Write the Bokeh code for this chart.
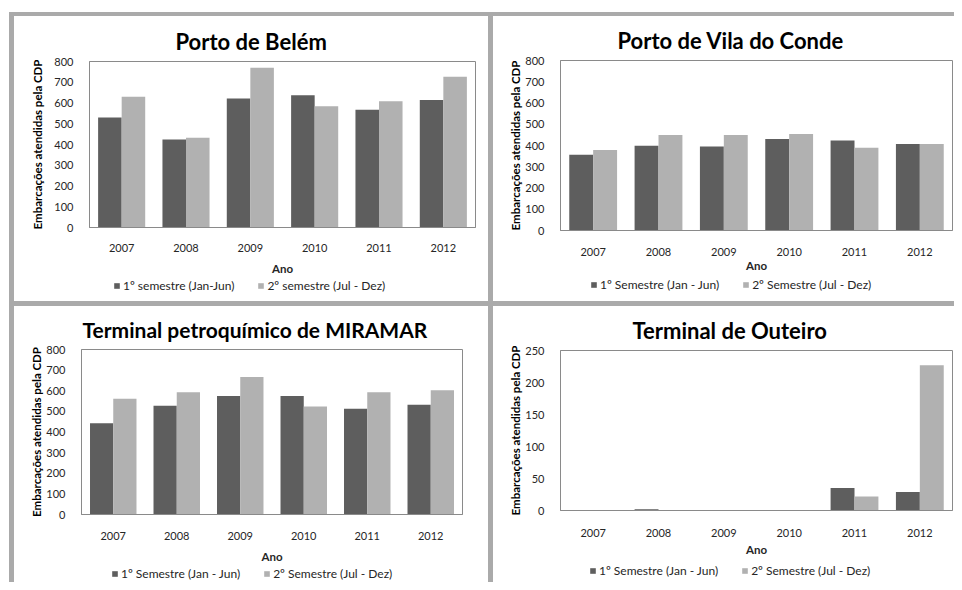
from bokeh.plotting import figure
from bokeh.models import (FactorRange, Range1d, FixedTicker, Legend, LegendItem,
                          Label, ColumnDataSource, Spacer)
from bokeh.transform import dodge
from bokeh.layouts import row, column
from bokeh.embed import file_html
from bokeh.resources import INLINE

# ---------------- data ----------------
years = ["2007", "2008", "2009", "2010", "2011", "2012"]

belem_s1 = [530, 424, 622, 637, 567, 614]
belem_s2 = [630, 433, 770, 584, 608, 727]

vila_s1 = [357, 399, 395, 431, 423, 407]
vila_s2 = [379, 449, 449, 454, 390, 407]

miramar_s1 = [443, 527, 574, 574, 513, 532]
miramar_s2 = [561, 593, 667, 524, 593, 602]

outeiro_s1 = [0, 2, 0, 0, 35, 29]
outeiro_s2 = [0, 0, 0, 0, 22, 227]

ticks_800 = [0, 100, 200, 300, 400, 500, 600, 700, 800]
ticks_250 = [0, 50, 100, 150, 200, 250]

title_belem = "Porto de Belém"
title_vila = "Porto de Vila do Conde"
title_miramar = "Terminal petroquímico de MIRAMAR"
title_outeiro = "Terminal de Outeiro"

legend_a = ["1º semestre (Jan-Jun)", "2º semestre (Jul - Dez)"]
legend_b = ["1º Semestre (Jan - Jun)", "2º Semestre (Jul - Dez)"]

y_label = "Embarcações atendidas pela CDP"
x_label = "Ano"

# ---------------- styling ----------------
FONT = "Lato"
DARK = "#5e5e5e"
LIGHT = "#b1b1b1"
TEXT = "#262626"
AXIS = "#8a8a8a"
BORDER = "#aaaaaa"


def bare(w, h, xr=None, yr=None):
    f = figure(width=w, height=h, x_range=xr if xr is not None else Range1d(0, 1),
               y_range=yr if yr is not None else Range1d(0, 1),
               x_axis_location=None, y_axis_location=None, min_border=0,
               output_backend="svg", toolbar_location=None)
    f.outline_line_color = None
    f.grid.visible = False
    return f


def panel(title, s1, s2, ymax, ticks, labels, w, th, ch, lh, mb, title_xy,
          title_size, ystd, xtick_std, xstd, leg_loc):
    l, r, t, b = mb
    src = ColumnDataSource(dict(year=years, s1=s1, s2=s2))

    # ---- title strip (its frame is aligned with the chart frame below) ----
    tf = bare(w, th)
    tf.add_layout(Label(x=title_xy[0], y=title_xy[1], x_units="screen",
                        y_units="screen", text=title, text_align="left",
                        text_baseline="middle", text_font=FONT,
                        text_font_style="bold", text_font_size=title_size,
                        text_color="black"))

    # ---- chart ----
    p = figure(x_range=FactorRange(*years), y_range=Range1d(0, ymax),
               width=w, height=ch, min_border_left=l, min_border_right=r,
               min_border_top=t, min_border_bottom=b,
               output_backend="svg", toolbar_location=None)
    p.vbar(x=dodge("year", -0.183, range=p.x_range), top="s1", width=0.366,
           source=src, fill_color=DARK, line_color=None)
    p.vbar(x=dodge("year", 0.183, range=p.x_range), top="s2", width=0.366,
           source=src, fill_color=LIGHT, line_color=None)

    p.xgrid.visible = False
    p.ygrid.visible = False
    p.outline_line_color = AXIS
    p.outline_line_width = 1

    ya = p.yaxis[0]
    ya.ticker = FixedTicker(ticks=ticks)
    ya.axis_label = y_label
    ya.axis_label_text_font = FONT
    ya.axis_label_text_font_style = "bold"
    ya.axis_label_text_font_size = "11.5px"
    ya.axis_label_text_color = "black"
    ya.axis_label_standoff = ystd
    ya.major_label_standoff = 10

    xa = p.xaxis[0]
    xa.axis_label = x_label
    xa.axis_label_text_font = FONT
    xa.axis_label_text_font_style = "bold"
    xa.axis_label_text_font_size = "11.5px"
    xa.axis_label_text_color = TEXT
    xa.axis_label_standoff = xstd
    xa.major_label_standoff = xtick_std

    for ax in (xa, ya):
        ax.major_tick_line_color = None
        ax.minor_tick_line_color = None
        ax.axis_line_color = AXIS
        ax.major_label_text_font = FONT
        ax.major_label_text_font_size = "11px"
        ax.major_label_text_color = TEXT

    # ---- legend strip: key renderers are hidden, only the legend key shows ----
    lf = bare(w, lh, xr=FactorRange(*years), yr=Range1d(-2, -1))
    k1 = lf.vbar(x=dodge("year", -0.183, range=lf.x_range), top="s1", width=0.366,
                 source=src, fill_color=DARK, line_color=None)
    k2 = lf.vbar(x=dodge("year", 0.183, range=lf.x_range), top="s2", width=0.366,
                 source=src, fill_color=LIGHT, line_color=None)
    k1.visible = False
    k2.visible = False
    leg = Legend(items=[LegendItem(label=labels[0], renderers=[k1]),
                        LegendItem(label=labels[1], renderers=[k2])],
                 location=leg_loc, orientation="horizontal",
                 glyph_width=7, glyph_height=7, label_standoff=3, spacing=23,
                 padding=0, margin=0, label_height=12,
                 inactive_fill_alpha=0,
                 border_line_color=None, background_fill_alpha=0,
                 label_text_font=FONT, label_text_font_size="12px",
                 label_text_color=TEXT)
    lf.add_layout(leg, "center")

    return column(tf, p, lf, spacing=0, styles={"background-color": "white"})


c1 = panel(title_belem, belem_s1, belem_s2, 800, ticks_800, legend_a,
           474, 38, 223, 24, (75, 13, 7, 48), (86, 13.2), "22px",
           7, 10, 7, (24, 8))
c2 = panel(title_vila, vila_s1, vila_s2, 800, ticks_800, legend_b,
           461, 37, 221, 27, (67, 2, 7, 43), (57, 13), "22px",
           0, 11, 0, (30, 9.5))
c3 = panel(title_miramar, miramar_s1, miramar_s2, 800, ticks_800, legend_b,
           474, 36, 223, 17, (67, 26, 7, 45), (1, 13), "21px",
           0, 11, 7, (30, 1.5))
c4 = panel(title_outeiro, outeiro_s1, outeiro_s2, 250, ticks_250, legend_b,
           461, 37, 215, 24, (67, 2, 7, 44), (72, 13), "22px",
           0, 12, 3, (29, 3.8))

grid = column(row(c1, c2, spacing=5), row(c3, c4, spacing=5), spacing=5,
              styles={"background-color": BORDER, "padding": "4px 0px 0px 5px"})

page = column(Spacer(width=10, height=12),
              row(Spacer(width=9, height=10), grid, spacing=0), spacing=0)

open("out.html", "w").write(file_html(page, INLINE))
